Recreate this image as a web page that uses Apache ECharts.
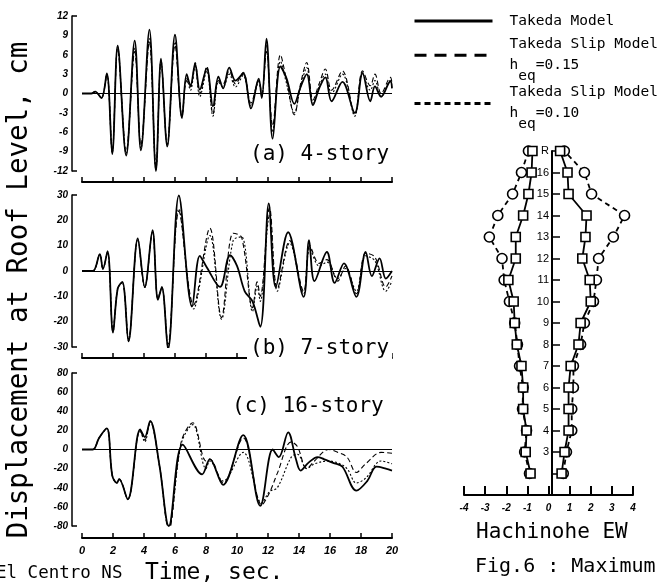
<!DOCTYPE html>
<html><head><meta charset="utf-8">
<script src="https://cdn.jsdelivr.net/npm/echarts@6/dist/echarts.min.js"></script>
<style>html,body{margin:0;padding:0;background:#fff}#c{width:663px;height:583px}</style>
</head><body><div id="c"></div>
<script>
// ---------- (a) 4-story ----------
var aTime = [0,0.6,0.85,1.25,1.6,1.95,2.3,2.85,3.4,3.8,4.35,4.77,5.1,5.5,6.0,6.45,6.75,7.0,7.3,7.6,8.05,8.45,8.8,9.1,9.5,9.9,10.4,10.9,11.4,11.6,11.9,12.3,12.8,13.2,13.7,14.1,14.5,14.9,15.3,15.7,16.1,16.8,17.6,18.1,18.6,18.9,19.3,19.9,20];
var aTakeda = [0,0,0.3,-0.7,3.1,-9.4,7.4,-9.6,8.2,-8.8,9.9,-12,5.4,-8.2,9.1,-3.8,3.0,1.2,4.6,0.6,3.9,-2.0,2.6,0.8,4.0,2.0,3.1,-2.3,2.3,-0.7,8.5,-7.0,4.2,2.3,-1.6,1.0,3.0,-1.8,0.8,2.5,-1.2,1.8,-3.0,3.2,-1.2,1.1,-0.5,1.9,0.8];
var aSlip15 = [0,0,0.3,-0.7,3.0,-9.0,7.0,-9.0,6.5,-8.0,8.0,-11.5,5.0,-7.8,7.5,-3.5,2.0,1.0,4.8,0.0,4.2,-3.2,2.0,1.5,3.5,1.5,3.3,-1.5,2.0,0,6.5,-5.0,6.0,2.0,-3.3,1.5,4.8,-1.0,1.5,3.8,0.5,3.5,-3.3,3.5,1.2,3.0,0,2.5,1.5];
var aSlip10 = [0,0,0.3,-0.7,3.0,-9.2,7.2,-9.3,7.0,-8.5,8.5,-11.8,5.2,-8.0,8.0,-3.6,2.5,0.5,4.2,-0.5,3.5,-3.5,1.8,1.0,3.0,1.0,2.8,-2.0,1.8,-0.5,7.5,-6.0,5.0,1.5,-3.0,1.0,4.0,-1.5,1.0,3.0,0,3.0,-3.5,3.0,0.5,2.0,-0.5,2.0,1.0];
// ---------- (b) 7-story ----------
var bTimeTakeda = [0,0.7,1.15,1.35,1.65,2.0,2.3,2.6,3.0,3.6,4.05,4.55,4.9,5.15,5.55,6.25,7.1,7.6,8.0,8.9,9.55,10.0,10.5,11.0,11.5,12.05,12.5,13.3,14.3,14.65,15.0,15.8,16.3,16.9,17.7,18.3,18.7,19.2,19.6,20];
var bTakeda = [0,0,6.7,0.8,7.8,-24.3,-7,-4.3,-27.8,12.9,-6.3,16.1,-11.4,-6.3,-31,29.8,-14,6.0,2.0,-6.3,6.3,2.0,-8,-12,-22,26.7,-6.3,15.3,-10.2,12.2,-4,7.5,-4.7,3,-10.2,7.5,-2,5,-3,0];
var bTimeSlip = [0,0.7,1.15,1.35,1.65,2.0,2.3,2.6,3.0,3.6,4.05,4.55,4.9,5.15,5.55,6.25,7.2,8.25,9.0,9.75,10.3,11.0,11.3,11.5,12.1,12.6,13.4,14.3,14.7,15.3,15.8,16.5,17.0,17.7,18.3,18.9,19.6,20];
var bSlip15 = [0,0,6.5,0.8,7.6,-24,-7,-4.5,-27,12.5,-6.5,15.5,-11,-6.5,-29,23.6,-13.4,16.9,-18.4,14.9,13.3,-14.5,-4.3,-10,25,-7,12,-8,10,3,4.5,-4,2,-9,7,5.5,-6.3,-2];
var bSlip10 = [0,0,6.5,0.8,7.6,-24,-7,-4.5,-27.5,12.5,-6.5,15.5,-11,-6.5,-30,24.5,-15,14,-19,12,13.5,-16,-6,-12,22,-8,11,-9,9,2,3.5,-3,1,-8,6,4,-8,-4];
// ---------- (c) 16-story ----------
var cTimeTakeda = [0,0.7,1.1,1.6,1.95,2.25,2.4,2.95,3.75,4.05,4.4,5.0,5.6,6.5,7.75,8.25,9.1,10.4,11.5,12.3,12.7,13.3,13.8,14.1,14.6,15.2,15.6,16.2,16.8,17.7,18.4,19.0,19.6,20];
var cTakeda = [0,0,12,22,-27,-35,-31,-52,21,13,30,-17,-80,5,-26,-10,-37,15,-59,0,-8,18,-10,-22,-14,-8,-10,-14,-18,-43,-33,-18,-20,-22];
var cTimeSlip = [0,0.7,1.1,1.6,1.95,2.25,2.4,2.95,3.75,4.05,4.4,5.0,5.6,6.4,7.15,8.0,8.25,9.1,10.4,11.6,12.1,12.6,13.5,13.9,14.5,15.0,15.9,16.5,17.1,17.7,18.3,19.3,20];
var cSlip15 = [0,0,12,22,-27,-35,-31,-52,20,10,29,-17,-84,8,28,-12,-10,-35,12,-58,-45,-25,8,3,-20,-12,0,-3,-8,-24,-15,-3,-4];
var cSlip10 = [0,0,12,22,-27,-35,-31,-52,20,8,29,-17,-82,6,26,-20,-12,-33,-3,-56,-44,-40,-8,-5,-20,-15,-12,-14,-20,-35,-30,-12,-15];
// ---------- Hachinohe EW profile ----------
var floors = [2,3,4,5,6,7,8,9,10,11,12,13,14,15,16,17];
var leftTakeda = [-0.85,-1.08,-1.04,-1.2,-1.2,-1.28,-1.5,-1.6,-1.65,-1.9,-1.55,-1.55,-1.2,-0.95,-0.8,-0.76];
var leftSlip = [-0.9,-1.13,-1.04,-1.23,-1.2,-1.37,-1.47,-1.6,-1.85,-2.1,-2.2,-2.8,-2.4,-1.7,-1.28,-0.95];
var rightTakeda = [0.62,0.76,0.95,0.95,0.95,1.05,1.42,1.52,2.0,1.95,1.6,1.75,1.8,0.95,0.9,0.55];
var rightSlip = [0.7,0.85,1.1,1.1,1.18,1.18,1.52,1.7,2.13,2.27,2.37,3.07,3.6,2.04,1.7,0.75];

var N1 = 'Takeda Model', N2 = 'Takeda Slip Model h=0.15', N3 = 'Takeda Slip Model h=0.10';
var MONO = '"DejaVu Sans Mono", "Liberation Mono", monospace';
var SANS = '"Liberation Sans", Arial, sans-serif';

function pairs(t, v) { return t.map(function (x, i) { return [x, v[i]]; }); }

var panels = [
  {top: 16, height: 155, min: -12, max: 12, step: 3, xOff: 11, showX: false},
  {top: 195, height: 152, min: -30, max: 30, step: 10, xOff: 11, showX: false},
  {top: 373, height: 153, min: -80, max: 80, step: 20, xOff: 12, showX: true}
];
var grids = [], xAxes = [], yAxes = [];
panels.forEach(function (p) {
  grids.push({left: 82, top: p.top, width: 310, height: p.height});
  xAxes.push({
    type: 'value', gridIndex: grids.length - 1, min: 0, max: 20, interval: 2, offset: p.xOff,
    axisLine: {onZero: false, lineStyle: {color: '#000', width: 2}},
    axisTick: {inside: true, length: 5, lineStyle: {color: '#000', width: 1.5}},
    axisLabel: {show: p.showX, color: '#000', fontFamily: SANS, fontSize: 11, fontStyle: 'italic', fontWeight: 'bold', margin: 7},
    splitLine: {show: false}
  });
  yAxes.push({
    type: 'value', gridIndex: grids.length - 1, min: p.min, max: p.max, interval: p.step, offset: 10,
    axisLine: {show: true, onZero: false, lineStyle: {color: '#000', width: 1.5}},
    axisTick: {show: true, inside: true, length: 5, customValues: [p.min, p.max], lineStyle: {color: '#000', width: 1.5}},
    axisLabel: {color: '#000', fontFamily: SANS, fontSize: 10, fontStyle: 'italic', fontWeight: 'bold', margin: 4},
    splitLine: {show: false}
  });
});
// profile grid (x = -4..4, y = floor level)
grids.push({left: 464, top: 151, width: 169, height: 344});
xAxes.push({
  type: 'value', gridIndex: 3, min: -4, max: 4, interval: 1,
  axisLine: {onZero: false, lineStyle: {color: '#000', width: 2}},
  axisTick: {inside: true, length: 9, lineStyle: {color: '#000', width: 2}},
  axisLabel: {color: '#000', fontFamily: SANS, fontSize: 10, fontStyle: 'italic', fontWeight: 'bold', margin: 8},
  splitLine: {show: false}
});
yAxes.push({
  type: 'value', gridIndex: 3, min: 1, max: 17, interval: 1, offset: -88,
  axisLine: {onZero: false, lineStyle: {color: '#000', width: 2}},
  axisTick: {inside: true, length: 8, lineStyle: {color: '#000', width: 1.5}},
  axisLabel: {color: '#000', fontFamily: SANS, fontSize: 11, margin: 3,
    formatter: function (v) { return v === 17 ? 'R' : (v >= 3 && v <= 16 ? String(v) : ''); }},
  splitLine: {show: false}
});

var solidStyle = {color: '#000', width: 1.8, type: 'solid'};
var dashStyle = {color: '#000', width: 1.1, type: [5, 3]};
var dotStyle = {color: '#000', width: 1.1, type: [2, 2]};
function ts(name, idx, data, style, zero) {
  var s = {name: name, type: 'line', xAxisIndex: idx, yAxisIndex: idx, data: data, symbol: 'none', showSymbol: false,
    smooth: 0.35, lineStyle: style, itemStyle: {color: '#000'}, z: name === N1 ? 4 : 3, silent: true};
  if (zero) {
    s.markLine = {silent: true, symbol: 'none', label: {show: false}, lineStyle: {color: '#000', width: 1, type: 'solid'},
      data: [{yAxis: 0}], animation: false};
  }
  return s;
}
var series = [
  ts(N3, 0, pairs(aTime, aSlip10), dotStyle),
  ts(N2, 0, pairs(aTime, aSlip15), dashStyle),
  ts(N1, 0, pairs(aTime, aTakeda), solidStyle, true),
  ts(N3, 1, pairs(bTimeSlip, bSlip10), dotStyle),
  ts(N2, 1, pairs(bTimeSlip, bSlip15), dashStyle),
  ts(N1, 1, pairs(bTimeTakeda, bTakeda), solidStyle, true),
  ts(N3, 2, pairs(cTimeSlip, cSlip10), dotStyle),
  ts(N2, 2, pairs(cTimeSlip, cSlip15), dashStyle),
  ts(N1, 2, pairs(cTimeTakeda, cTakeda), solidStyle, true)
];
function prof(name, vals, sym, dashed) {
  return {name: name, type: 'line', xAxisIndex: 3, yAxisIndex: 3,
    data: vals.map(function (v, i) { return [v, floors[i]]; }),
    symbol: sym, symbolSize: sym === 'rect' ? 9 : 10, showSymbol: true,
    lineStyle: {color: '#000', width: 1.8, type: dashed ? [5, 4] : 'solid'},
    itemStyle: {color: '#fff', borderColor: '#000', borderWidth: 1.6}, silent: true, z: dashed ? 3 : 4};
}
series.push(prof('pL1', leftSlip, 'circle', true));
series.push(prof('pL2', leftTakeda, 'rect', false));
series.push(prof('pR1', rightSlip, 'circle', true));
series.push(prof('pR2', rightTakeda, 'rect', false));

function txt(text, x, y, size, opts) {
  opts = opts || {};
  return {type: 'text', x: x, y: y, rotation: opts.rot || 0, z: 100,
    style: Object.assign({text: text, fontFamily: MONO, fontSize: size, fill: '#000',
      align: opts.align || 'left', verticalAlign: 'middle', textAlign: opts.align || 'left', textVerticalAlign: 'middle'}, opts.style || {})};
}
var hide = {opacity: 0, color: 'transparent', borderColor: 'transparent', borderWidth: 0};

var option = {
  animation: false,
  backgroundColor: '#fff',
  grid: grids, xAxis: xAxes, yAxis: yAxes, series: series,
  legend: {
    orient: 'vertical', left: 413, top: 6.5, padding: 0, itemWidth: 78, itemHeight: 14, itemGap: 1, selectedMode: false,
    itemStyle: hide,
    data: [
      {name: N1, itemStyle: hide, lineStyle: {width: 3, type: 'solid', color: '#000'}},
      {name: N2, itemStyle: hide, lineStyle: {width: 3, type: [12, 8], color: '#000'}},
      {name: N3, itemStyle: hide, lineStyle: {width: 3, type: [6, 4], color: '#000'}}
    ],
    formatter: function (n) {
      if (n === N1) return '{e| }\n{t|Takeda Model}\n{e| }';
      if (n === N2) return '{t|Takeda Slip Model}\n{t|h  =0.15}\n{s| eq}';
      return '{t|Takeda Slip Model}\n{t|h  =0.10}\n{s| eq}';
    },
    textStyle: {color: '#000', fontFamily: MONO, fontSize: 14.5, padding: [0, 0, 0, 12],
      rich: {
        e: {fontFamily: MONO, fontSize: 2, lineHeight: 6, color: '#000'},
        t: {fontFamily: MONO, fontSize: 14.5, color: '#000', lineHeight: 21},
        s: {fontFamily: MONO, fontSize: 14.5, color: '#000', lineHeight: 1.5}
      }}
  },
  graphic: [
    txt('Displacement at Roof Level, cm', 20, 290, 27.5, {rot: Math.PI / 2, align: 'center'}),
    txt('(a) 4-story', 250, 155, 21),
    txt('(b) 7-story', 247, 349, 21, {style: {backgroundColor: '#fff', padding: [2, 3, 2, 3]}}),
    txt('(c) 16-story', 232, 407, 21),
    txt('El Centro NS', -4, 573, 17.5),
    txt('Time, sec.', 145, 573, 23),
    txt('Hachinohe EW', 476, 533, 21),
    txt('Fig.6 : Maximum', 475, 567, 20)
  ]
};
var chart = echarts.init(document.getElementById('c'), null, {renderer: 'canvas'});
chart.setOption(option);
</script></body></html>
